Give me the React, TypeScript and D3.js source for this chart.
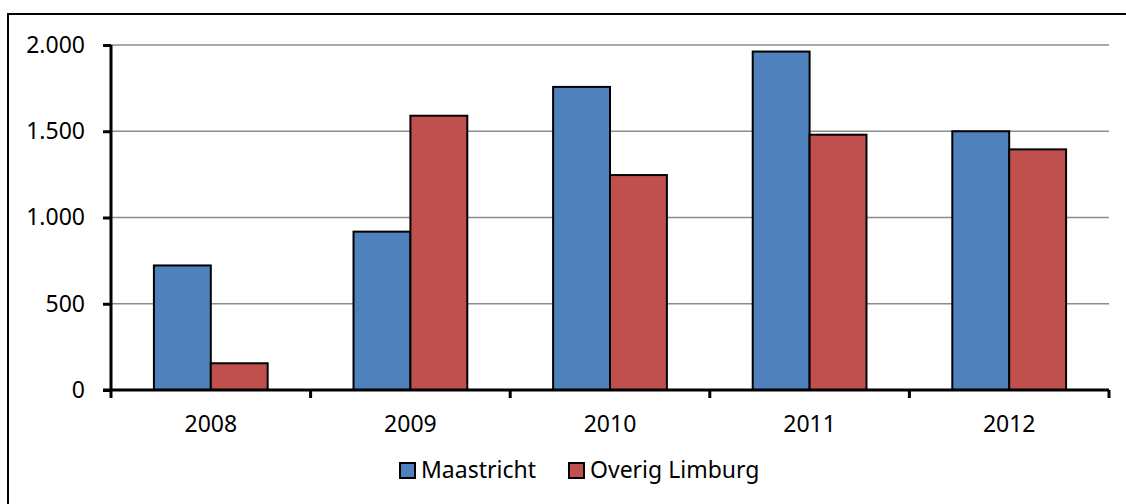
import React, { useEffect, useRef } from "react";
import * as d3 from "d3";

const years = ["2008", "2009", "2010", "2011", "2012"];
const seriesNames = ["Maastricht", "Overig Limburg"];
const maastricht = [722, 918, 1757, 1962, 1500];
const overigLimburg = [155, 1590, 1246, 1480, 1395];
const yTicks = [0, 500, 1000, 1500, 2000];
const colors = ["#4F81BD", "#C0504D"];

export default function App() {
  const ref = useRef<SVGSVGElement>(null);

  useEffect(() => {
    const svg = d3.select(ref.current);
    svg.selectAll("*").remove();

    const width = 1126,
      height = 504;
    const left = 111,
      right = 1109,
      top = 45,
      bottom = 390;
    const font = "'Noto Sans', 'Open Sans', sans-serif";
    const fs = 23;

    svg.attr("width", width).attr("height", height);

    // outer frame, runs off the right and bottom edges
    svg
      .append("rect")
      .attr("x", 8)
      .attr("y", 14)
      .attr("width", 1200)
      .attr("height", 600)
      .attr("fill", "white")
      .attr("stroke", "#000")
      .attr("stroke-width", 2);

    const x0 = d3
      .scaleBand()
      .domain(years)
      .range([left, right])
      .paddingInner(0.43)
      .paddingOuter(0.215);
    const x1 = d3
      .scaleBand()
      .domain(seriesNames)
      .range([0, x0.bandwidth()]);
    const y = d3.scaleLinear().domain([0, 2000]).range([bottom, top]);

    // gridlines
    svg
      .append("g")
      .selectAll("line")
      .data(yTicks.filter((d) => d > 0))
      .enter()
      .append("line")
      .attr("x1", left)
      .attr("x2", right)
      .attr("y1", (d) => y(d))
      .attr("y2", (d) => y(d))
      .attr("stroke", "#8c8c8c")
      .attr("stroke-width", 1.5);

    const data = years.map((yr, i) => ({
      year: yr,
      values: [maastricht[i], overigLimburg[i]],
    }));

    const groups = svg
      .append("g")
      .selectAll("g")
      .data(data)
      .enter()
      .append("g")
      .attr("transform", (d) => `translate(${x0(d.year)},0)`);

    groups
      .selectAll("rect")
      .data((d) => d.values.map((v, j) => ({ name: seriesNames[j], v, j })))
      .enter()
      .append("rect")
      .attr("x", (d) => x1(d.name)!)
      .attr("y", (d) => y(d.v))
      .attr("width", x1.bandwidth())
      .attr("height", (d) => y(0) - y(d.v))
      .attr("fill", (d) => colors[d.j])
      .attr("stroke", "#000")
      .attr("stroke-width", 2);

    // y axis
    const yAxis = svg
      .append("g")
      .attr("transform", `translate(${left},0)`)
      .call(
        d3
          .axisLeft(y)
          .tickValues(yTicks)
          .tickSize(8)
          .tickPadding(18)
          .tickFormat((d) => d3.format(",")(d as number).replace(/,/g, "."))
      );
    yAxis.select(".domain").attr("stroke-width", 3).attr("d", `M0,${top}V${bottom}`);
    yAxis.selectAll(".tick line").attr("stroke-width", 3);
    yAxis
      .selectAll("text")
      .attr("font-family", font)
      .attr("font-size", fs)
      .attr("fill", "#000");

    // x axis, ticks between categories
    const xAxis = svg.append("g").attr("transform", `translate(0,${bottom})`);
    xAxis
      .append("line")
      .attr("x1", left - 8)
      .attr("x2", right)
      .attr("stroke", "#000")
      .attr("stroke-width", 3);
    const step = x0.step();
    xAxis
      .selectAll(".tk")
      .data(d3.range(years.length + 1))
      .enter()
      .append("line")
      .attr("x1", (i) => left + i * step)
      .attr("x2", (i) => left + i * step)
      .attr("y1", 0)
      .attr("y2", 8)
      .attr("stroke", "#000")
      .attr("stroke-width", 3);
    xAxis
      .selectAll("text")
      .data(years)
      .enter()
      .append("text")
      .attr("x", (d) => x0(d)! + x0.bandwidth() / 2)
      .attr("y", 42)
      .attr("text-anchor", "middle")
      .attr("font-family", font)
      .attr("font-size", fs)
      .text((d) => d);

    // legend
    const legendPos = [400, 569];
    const legend = svg
      .append("g")
      .selectAll("g")
      .data(seriesNames)
      .enter()
      .append("g")
      .attr("transform", (d, i) => `translate(${legendPos[i]},463)`);
    legend
      .append("rect")
      .attr("width", 15)
      .attr("height", 15)
      .attr("fill", (d, i) => colors[i])
      .attr("stroke", "#000")
      .attr("stroke-width", 2);
    legend
      .append("text")
      .attr("x", 21)
      .attr("y", 15)
      .attr("font-family", font)
      .attr("font-size", fs)
      .text((d) => d);
  }, []);

  return (
    <svg
      ref={ref}
      style={{ position: "absolute", left: 0, top: 0, display: "block" }}
    ></svg>
  );
}
